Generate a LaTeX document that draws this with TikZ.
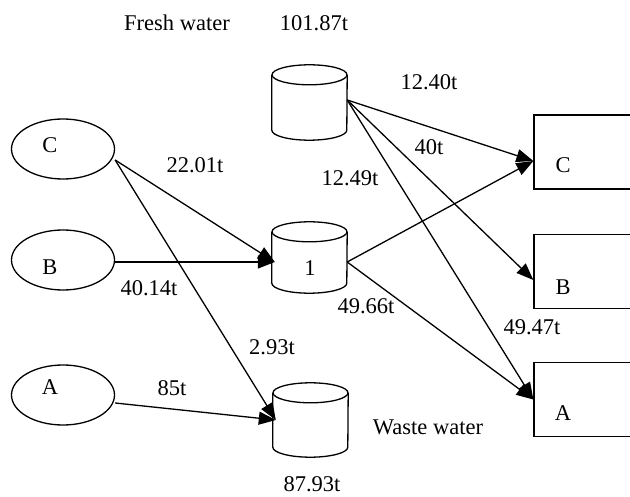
\documentclass[tikz,border=0pt]{standalone}
\usepackage{fontspec}
\setmainfont{Liberation Serif}
\usetikzlibrary{shapes.geometric,arrows.meta}
\tikzset{
  lw/.style={line width=1.3pt},
  src/.style={ellipse, draw, lw, minimum width=103pt, minimum height=60pt, inner sep=0pt},
  tank/.style={rectangle, inner sep=0pt, minimum width=75pt},
  sink/.style={rectangle, draw, lw, minimum width=110pt, minimum height=74pt, inner sep=0pt},
  lab/.style={inner sep=0pt},
  flow/.style={lw, -{Triangle[length=17pt,width=13pt]}},
}
\newcommand\tankdraw[1]{%
  \draw[lw] ([yshift=-10pt]#1.north west) -- ([yshift=10pt]#1.south west)
    arc[start angle=180,end angle=360,x radius=37.5pt,y radius=10pt]
    -- ([yshift=-10pt]#1.north east);
  \draw[lw] ([yshift=-10pt]#1.north) ellipse[x radius=37.5pt,y radius=10pt];%
}
\begin{document}
\begin{tikzpicture}[x=1pt,y=-1pt,font=\fontsize{22.5}{27}\selectfont]
\useasboundingbox (0,0) rectangle (630,497);
\clip (0,0) rectangle (630,497);

% sources
\node[src] (eC) at (63,149) {};
\node[src] (eB) at (63,260) {};
\node[src] (eA) at (63,395) {};
\node[lab] (tC) at (50,145) {C};
\node[lab] (tB) at (50,267) {B};
\node[lab] (tA) at (50,387) {A};

% tanks
\node[tank, minimum height=75pt] (fresh) at (309.5,102.5) {};
\node[tank, minimum height=71pt] (c1) at (309.5,257.5) {};
\node[tank, minimum height=74pt] (waste) at (310.5,420) {};
\tankdraw{fresh}
\tankdraw{c1}
\tankdraw{waste}
\node[lab] (t1) at (310,268) {1};

% sinks
\node[sink] (rC) at (589,152) {};
\node[sink] (rB) at (589,271.5) {};
\node[sink] (rA) at (589,399.5) {};
\node[lab] (sC) at (563,165) {C};
\node[lab] (sB) at (563,287) {B};
\node[lab] (sA) at (563,413) {A};

% flows
\draw[flow] ([yshift=-11pt]eC.east) -- ([shift={(3pt,-4.5pt)}]c1.west);
\draw[flow] ([yshift=-2pt]eB.east) -- ([shift={(3pt,-4.5pt)}]c1.west);
\draw[flow] ([yshift=-11pt]eC.east) -- ([xshift=3pt]waste.west);
\draw[flow] ([yshift=-8pt]eA.east) -- ([xshift=3pt]waste.west);
\draw[flow] ([yshift=2.5pt]fresh.east) -- ([yshift=-9pt]rC.west);
\draw[flow] ([yshift=2.5pt]fresh.east) -- ([yshift=-8.5pt]rB.west);
\draw[flow] ([yshift=2.5pt]fresh.east) -- (rA.west);
\draw[flow] ([yshift=-4.5pt]c1.east) -- ([yshift=-9pt]rC.west);
\draw[flow] ([yshift=-4.5pt]c1.east) -- (rA.west);

% labels
\node[lab] (lfw) at (177,23) {Fresh water};
\node[lab] (lfwv) at (314,23) {101.87t};
\node[lab] (l1240) at (429,82) {12.40t};
\node[lab] (l40) at (429,147) {40t};
\node[lab] (l1249) at (350,178) {12.49t};
\node[lab] (l2201) at (195,165) {22.01t};
\node[lab] (l4014) at (149,288) {40.14t};
\node[lab] (l4966) at (366,306) {49.66t};
\node[lab] (l4947) at (532,327) {49.47t};
\node[lab] (l293) at (272,347) {2.93t};
\node[lab] (l85) at (172,388) {85t};
\node[lab] (lww) at (428,427) {Waste water};
\node[lab] (lwwv) at (312,484) {87.93t};
\end{tikzpicture}
\end{document}
